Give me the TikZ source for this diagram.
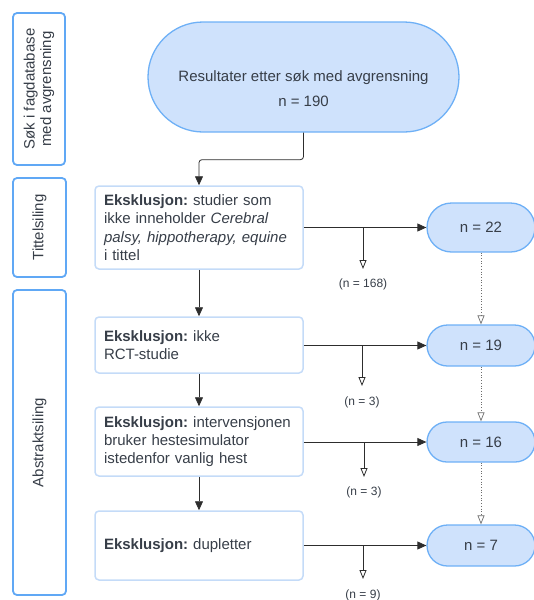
\documentclass[tikz,border=0pt]{standalone}
\usepackage{fontspec}
\setmainfont{Liberation Sans}
\frenchspacing
\usetikzlibrary{arrows.meta,shapes.misc}
\definecolor{ovalfill}{RGB}{207,226,252}
\definecolor{ovaldraw}{RGB}{110,176,246}
\definecolor{boxdraw}{RGB}{196,219,248}
\definecolor{sidedraw}{RGB}{96,168,245}
\definecolor{txt}{RGB}{55,62,72}
\definecolor{ln}{RGB}{45,45,45}
\tikzset{
  sidebox/.style={draw=sidedraw, line width=1.8pt, rounded corners=4pt, rotate=90, align=center, text=txt, font=\fontsize{15}{16.5}\selectfont, inner sep=0pt},
  exbox/.style={draw=boxdraw, line width=1.5pt, rounded corners=4pt, minimum width=208pt, text width=190pt, align=left, inner xsep=9pt, text=txt, font=\fontsize{15}{18.3}\selectfont},
  oval/.style={rounded rectangle, draw=ovaldraw, fill=ovalfill, line width=1.3pt, text=txt, font=\fontsize{15}{18}\selectfont, align=center, inner sep=0pt},
  txtonly/.style={text=txt, font=\fontsize{15}{18}\selectfont, align=center, inner sep=0pt},
  flow/.style={draw=ln, line width=0.8pt, -{Triangle[length=9pt,width=8pt]}},
  drop/.style={draw=ln, line width=0.8pt, -{Triangle[open,length=9pt,width=7pt]}},
  seq/.style={draw=ln!70, line width=0.7pt, dotted, -{Triangle[open,length=9pt,width=7pt]}},
  lbl/.style={text=txt, font=\fontsize{12}{14}\selectfont, inner sep=1pt},
}
\begin{document}
\begin{tikzpicture}[x=1pt,y=-1pt]
\useasboundingbox (0,0) rectangle (534,600);
% side labels
\node[sidebox, minimum width=152pt, minimum height=52pt] (s1) at (39,89) {Søk i fagdatabase\\med avgrensning};
\node[sidebox, minimum width=99pt, minimum height=53pt] (s2) at (39.5,227.5) {Tittelsiling};
\node[sidebox, minimum width=305pt, minimum height=53pt] (s3) at (39.5,442.5) {Abstraktsiling};
% top oval
\node[oval, minimum width=311pt, minimum height=110pt] (top) at (303.5,77) {};
\node[txtonly] (toptext) at (303.5,88.5) {Resultater etter søk med avgrensning\\[7pt]n = 190};
% exclusion boxes
\node[exbox, minimum height=83pt] (A) at (199,227.5) {\textbf{Eksklusjon:} studier som\\ikke inneholder \textit{Cerebral}\\\textit{palsy, hippotherapy, equine}\\i tittel};
\node[exbox, minimum height=56pt] (B) at (199,345) {\textbf{Eksklusjon:} ikke\\RCT-studie};
\node[exbox, minimum height=69pt] (C) at (199,441.5) {\textbf{Eksklusjon:} intervensjonen\\bruker hestesimulator\\istedenfor vanlig hest};
\node[exbox, minimum height=69pt] (D) at (199,545.5) {\textbf{Eksklusjon:} dupletter};
% result ovals
\node[oval, minimum width=108pt, minimum height=49pt] (r1) at (481,227.5) {n = 22};
\node[oval, minimum width=108pt, minimum height=41pt] (r2) at (481,345.5) {n = 19};
\node[oval, minimum width=108pt, minimum height=40pt] (r3) at (481,442) {n = 16};
\node[oval, minimum width=108pt, minimum height=41pt] (r4) at (481,545.5) {n = 7};
% excluded counts
\coordinate (b1) at (363,227.5);
\coordinate (b2) at (362,345.5);
\coordinate (b3) at (364,442);
\coordinate (b4) at (363,545.5);
\coordinate (e1) at (363,269);
\coordinate (e2) at (362,386);
\coordinate (e3) at (364,477);
\coordinate (e4) at (363,579);
\node[lbl] (l1) at (363,284) {(n = 168)};
\node[lbl] (l2) at (362,402) {(n = 3)};
\node[lbl] (l3) at (364,492) {(n = 3)};
\node[lbl] (l4) at (363,595) {(n = 9)};
% connectors
\draw[flow, rounded corners=3pt] (top.south) -- ++(0,27) -| (A.north);
\draw[flow] (A.south) -- (B.north);
\draw[flow] (B.south) -- (C.north);
\draw[flow] (C.south) -- (D.north);
\draw[flow] (A.east) -- (r1.west);
\draw[flow] (B.east |- r2.west) -- (r2.west);
\draw[flow] (C.east |- r3.west) -- (r3.west);
\draw[flow] (D.east) -- (r4.west);
\draw[drop] (b1) -- (e1);
\draw[drop] (b2) -- (e2);
\draw[drop] (b3) -- (e3);
\draw[drop] (b4) -- (e4);
\draw[seq] (r1.south) -- (r2.north);
\draw[seq] (r2.south) -- (r3.north);
\draw[seq] (r3.south) -- (r4.north);
\end{tikzpicture}
\end{document}
